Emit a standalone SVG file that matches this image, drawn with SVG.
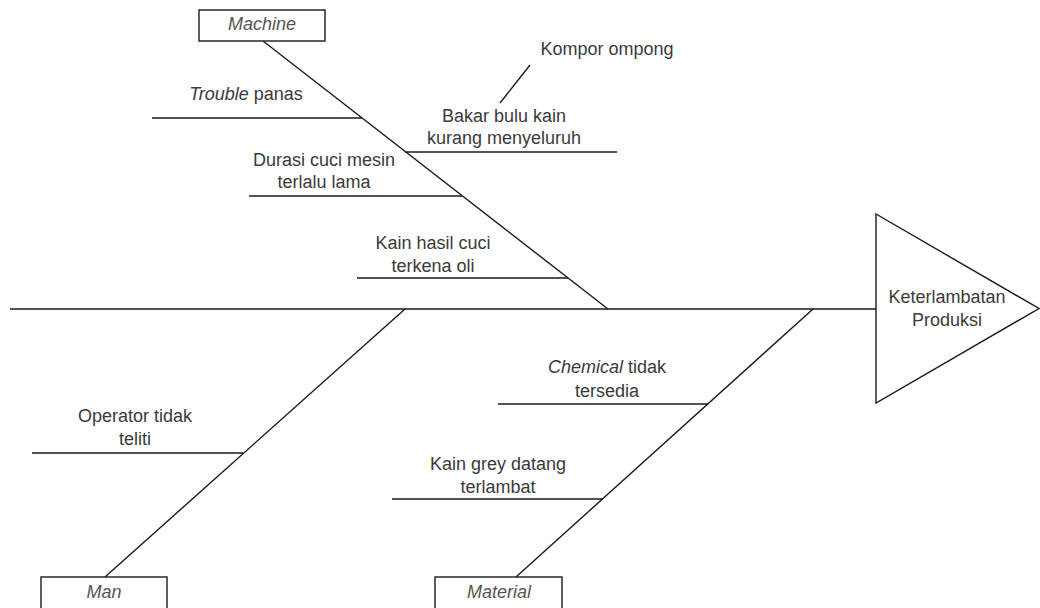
<svg xmlns="http://www.w3.org/2000/svg" width="1040" height="608" viewBox="0 0 1040 608">
<style>
.ln{stroke:#1a1a1a;stroke-width:1.4;fill:none}
.box{stroke:#1a1a1a;stroke-width:1.4;fill:#fff}
text{font-family:"Liberation Sans",Arial,sans-serif;font-size:18px;fill:#3a3a3a;text-anchor:middle}
.cat{font-style:italic;fill:#555}
.it{font-style:italic}
</style>
<rect width="1040" height="608" fill="#fff"/>
<g id="connectors">
<line class="ln" x1="10" y1="309" x2="876" y2="309"/>
<line class="ln" x1="263" y1="41" x2="608" y2="309"/>
<line class="ln" x1="405" y1="309" x2="105" y2="577"/>
<line class="ln" x1="813" y1="309" x2="516" y2="577"/>
<line class="ln" x1="152" y1="118" x2="362" y2="118"/>
<line class="ln" x1="405" y1="152" x2="617" y2="152"/>
<line class="ln" x1="530" y1="65" x2="500" y2="103"/>
<line class="ln" x1="249" y1="196" x2="462" y2="196"/>
<line class="ln" x1="357" y1="278" x2="568" y2="278"/>
<line class="ln" x1="32" y1="453" x2="243" y2="453"/>
<line class="ln" x1="498" y1="404" x2="708" y2="404"/>
<line class="ln" x1="392" y1="499" x2="603" y2="499"/>
</g>
<g id="machine">
<rect class="box" x="199" y="10" width="126" height="31"/>
<text class="cat" x="262" y="30">Machine</text>
</g>
<g id="man">
<rect class="box" x="41" y="577" width="126" height="40"/>
<text class="cat" x="104" y="598">Man</text>
</g>
<g id="material">
<rect class="box" x="435" y="577" width="127" height="40"/>
<text class="cat" x="499" y="598">Material</text>
</g>
<g id="effect">
<polygon class="box" points="876,214 1039,308.5 876,403"/>
<text x="947" y="303">Keterlambatan</text>
<text x="947" y="326">Produksi</text>
</g>
<g id="trouble-panas">
<text x="246" y="100"><tspan class="it">Trouble</tspan> panas</text>
</g>
<g id="bakar-bulu">
<text x="504" y="122">Bakar bulu kain</text>
<text x="504" y="144">kurang menyeluruh</text>
</g>
<g id="kompor">
<text x="607" y="55">Kompor ompong</text>
</g>
<g id="durasi">
<text x="324" y="166">Durasi cuci mesin</text>
<text x="324" y="188">terlalu lama</text>
</g>
<g id="kain-hasil">
<text x="433" y="249">Kain hasil cuci</text>
<text x="433" y="272">terkena oli</text>
</g>
<g id="operator">
<text x="135" y="422">Operator tidak</text>
<text x="135" y="445">teliti</text>
</g>
<g id="chemical">
<text x="607" y="373"><tspan class="it">Chemical</tspan> tidak</text>
<text x="607" y="397">tersedia</text>
</g>
<g id="kain-grey">
<text x="498" y="470">Kain grey datang</text>
<text x="498" y="493">terlambat</text>
</g>
</svg>
